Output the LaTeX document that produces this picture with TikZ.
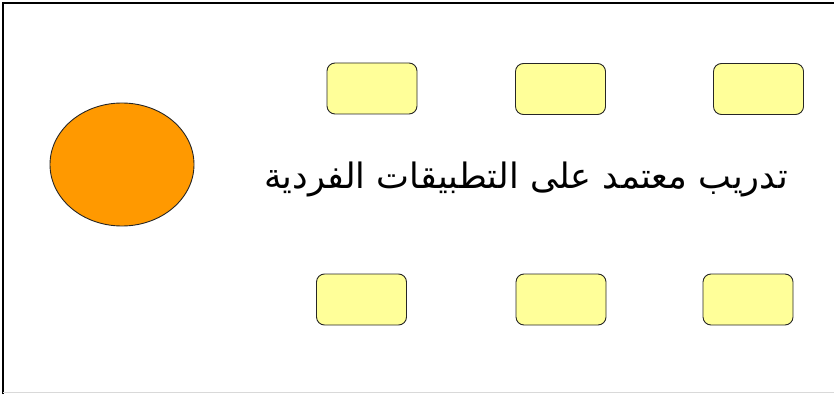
\documentclass[tikz,border=0pt]{standalone}
\usepackage{fontspec}
\usepackage{xcolor}
\usetikzlibrary{positioning,shapes.geometric}
\TeXXeTstate=1
\newfontfamily\arabicfont[Script=Arabic]{DejaVu Sans}
\definecolor{slotyellow}{HTML}{FFFF99}
\definecolor{ballorange}{HTML}{FF9900}

\begin{document}
\begin{tikzpicture}[x=1pt, y=1pt,
    slot/.style={rectangle, rounded corners=8pt, draw=black!85, fill=slotyellow,
                 line width=0.9pt, minimum width=90pt, minimum height=51pt},
    ball/.style={ellipse, draw=black!85, fill=ballorange, line width=0.9pt,
                 minimum width=144pt, minimum height=123pt},
]
\useasboundingbox (0,0) rectangle (834,394);
% Frame
\draw[black, line width=1.5pt] (3,0) -- (3,391) -- (834,391);
\draw[black!15, line width=1pt] (3,2) -- (834,2);

% Ball
\node[ball] (ball) at (122,229.5) {};

% Slots
\node[slot] (top1) at (372,305.5) {};
\node[slot] (top2) at (560.5,305) {};
\node[slot] (top3) at (758.5,305) {};
\node[slot] (bot1) at (361.5,94.5) {};
\node[slot] (bot2) at (561,94.5) {};
\node[slot] (bot3) at (748,94.5) {};

% Title
\node[font=\arabicfont\fontsize{35}{40}\selectfont] (title) at (526,215)
    {\beginR تدريب معتمد على التطبيقات الفردية\endR};
\end{tikzpicture}
\end{document}
